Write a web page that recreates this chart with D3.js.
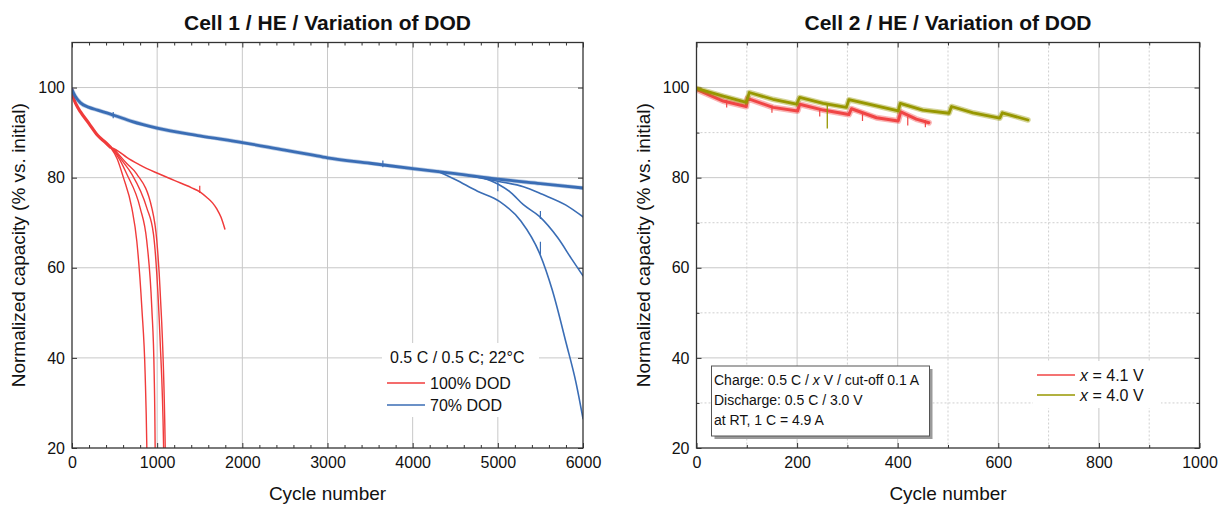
<!DOCTYPE html>
<html>
<head>
<meta charset="utf-8">
<style>
body { margin: 0; background: #fff; }
text { font-family: Arial, "Liberation Sans", sans-serif; fill: #111; }
.title { font-size: 21px; font-weight: bold; }
.axlabel { font-size: 19px; }
.tick text { font-size: 16px; font-family: Arial, "Liberation Sans", sans-serif; fill: #111; }
.tick line { stroke: #333; }
.grid { stroke: #c8c8c8; stroke-width: 1; }
.grid-minor { stroke: #cfcfcf; stroke-width: 1; stroke-dasharray: 2,2; }
.frame { fill: none; stroke: #333; stroke-width: 1.3; }
.curve { fill: none; stroke-linejoin: round; stroke-linecap: round; }
</style>
</head>
<body>
<svg id="thevis" width="1220" height="506"></svg>
<script src="https://cdn.jsdelivr.net/npm/d3@7"></script>
<script>
// ---- data: [cycle, % of initial capacity] ----

// cell 1, 100% DOD (red): common start, then each cell branches off
var red100Start = [[0,99.5],[20,97.6],[50,96.2],[100,94.6],[200,92.0],[300,89.4],[400,87.7],[450,86.8]];
var red100Long  = [[450,86.8],[550,85.8],[643,84.5],[800,82.8],[976,81.2],[1200,79.4],[1400,77.8],
                   [1506,76.8],[1584,75.6],[1650,74.4],[1702,73.0],[1750,71.2],[1795,68.6]];
var red100A = [[450,86.8],[530,84.2],[604,80.0],[702,73.3],[761,65.9],[820,51.1],[859,36.3],[878,20.7],[882,15]];
var red100B = [[470,86.5],[560,84.0],[643,80.8],[800,73.3],[878,65.9],[937,51.1],[965,36.3],[976,20.7],[978,15]];
var red100C = [[490,86.3],[600,83.5],[702,80.8],[878,73.3],[957,67.4],[996,58.5],[1035,43.7],[1075,20.7],[1080,15]];
var red100D = [[510,86.0],[640,83.2],[761,80.8],[937,73.3],[996,66.0],[1035,54.8],[1094,20.7],[1098,15]];

// cell 1, 70% DOD (blue): band of cells, three break away after ~4300 cycles
var blue70Main = [[0,99.5],[40,98.0],[100,96.6],[200,95.6],[300,95.0],[500,93.8],[700,92.5],[1000,91.0],
                  [1500,89.3],[2000,87.8],[2500,86.1],[2800,85.1],[3000,84.4],[3500,83.2],[4000,82.0],
                  [4500,80.9],[5000,79.7],[5500,78.7],[6000,77.7]];
var blue70A = [[4650,80.5],[5000,79.2],[5300,78.0],[5523,76.3],[5800,73.9],[6000,71.3]];
var blue70B = [[4800,80.1],[5000,78.6],[5153,76.7],[5300,74.0],[5488,71.4],[5702,66.7],[5872,61.8],[6000,58.2]];
var blue70C = [[4300,81.4],[4500,79.6],[4761,77.0],[5023,74.7],[5270,70.4],[5488,63.3],[5640,55.0],
               [5802,43.3],[5919,34.4],[6000,26.5]];

// short spikes in the records: [cycle, low, high]
var redSpikes  = [[1500,76.6,78.2]];
var blueSpikes = [[484,93.2,94.6],[3650,82.3,83.8],[5000,77.0,79.2],[5500,63.0,65.8],[5500,70.8,72.6]];

// cell 2 (sawtooth after each check-up)
var cell2Red41 = [[0,99.6],[53,97.0],[99,95.8],[101,97.6],[152,95.6],[201,94.8],[205,96.3],[252,95.0],
                  [303,94.0],[308,95.3],[358,93.3],[401,92.6],[406,94.6],[437,93.0],[462,92.2]];
var cell2Olive40 = [[0,99.8],[53,98.1],[99,96.7],[105,98.9],[152,97.4],[199,96.3],[205,97.8],[252,96.5],
                    [298,95.6],[303,97.3],[351,96.1],[401,94.8],[405,96.5],[450,95.0],[502,94.3],
                    [507,95.8],[550,94.4],[603,93.2],[608,94.4],[659,92.8]];
var oliveSpikes = [[260,90.9,96.5]];
var redSpikes2  = [[60,95.6,97.2],[150,94.4,96.0],[245,93.6,95.2],[330,92.6,94.6],[420,91.6,93.6],[455,91.2,92.8]];

var leftXTicks = [0,1000,2000,3000,4000,5000,6000];
var rightXTicks = [0,200,400,600,800,1000];
var yTicks = [20,40,60,80,100];

var RED = "#f03b3b", BLUE = "#3a6db5", OLIVE = "#979700", RED2 = "#f04545";

var svg = d3.select("svg");

var yL = d3.scaleLinear().domain([20,110]).range([448,42.5]);
var xL = d3.scaleLinear().domain([0,6000]).range([72,583]);
var xR = d3.scaleLinear().domain([0,1000]).range([696.5,1199.5]);

function minorsBetween(majors, step) {
  var out = [];
  for (var i = 0; i < majors.length - 1; i++) {
    for (var v = majors[i] + step; v < majors[i+1] - 1e-9; v += step) out.push(v);
  }
  return out;
}

function panel(id, x, y, xMajors, xMinors, yMajors, yMinors, dottedMinorGrid, title) {
  var g = svg.append("g").attr("id", id);
  var x0 = x.range()[0], x1 = x.range()[1], y0 = y.range()[1], y1 = y.range()[0];

  // grid
  g.selectAll(".gx").data(xMajors.slice(1, -1)).enter().append("line")
    .attr("class", "grid").attr("x1", x).attr("x2", x).attr("y1", y0).attr("y2", y1);
  g.selectAll(".gy").data(yMajors.slice(1)).enter().append("line")
    .attr("class", "grid").attr("y1", y).attr("y2", y).attr("x1", x0).attr("x2", x1);
  if (dottedMinorGrid) {
    g.selectAll(".gxm").data(xMinors).enter().append("line")
      .attr("class", "grid-minor").attr("x1", x).attr("x2", x).attr("y1", y0).attr("y2", y1);
    g.selectAll(".gym").data(yMinors).enter().append("line")
      .attr("class", "grid-minor").attr("y1", y).attr("y2", y).attr("x1", x0).attr("x2", x1);
  }

  // axes with inward ticks, mirrored on top/right
  var fmt = d3.format("d");
  g.append("g").attr("transform", "translate(0," + y1 + ")")
    .call(d3.axisBottom(x).tickValues(xMajors).tickSize(-5).tickPadding(9).tickFormat(fmt));
  g.append("g").attr("transform", "translate(0," + y1 + ")")
    .call(d3.axisBottom(x).tickValues(xMinors).tickSize(-3).tickFormat(""));
  g.append("g").attr("transform", "translate(0," + y0 + ")")
    .call(d3.axisTop(x).tickValues(xMajors).tickSize(-5).tickFormat(""));
  g.append("g").attr("transform", "translate(0," + y0 + ")")
    .call(d3.axisTop(x).tickValues(xMinors).tickSize(-3).tickFormat(""));
  g.append("g").attr("transform", "translate(" + x0 + ",0)")
    .call(d3.axisLeft(y).tickValues(yMajors).tickSize(-5).tickPadding(7).tickFormat(fmt));
  g.append("g").attr("transform", "translate(" + x1 + ",0)")
    .call(d3.axisRight(y).tickValues(yMajors).tickSize(-5).tickFormat(""));
  if (yMinors.length) {
    g.append("g").attr("transform", "translate(" + x0 + ",0)")
      .call(d3.axisLeft(y).tickValues(yMinors).tickSize(-3).tickFormat(""));
    g.append("g").attr("transform", "translate(" + x1 + ",0)")
      .call(d3.axisRight(y).tickValues(yMinors).tickSize(-3).tickFormat(""));
  }
  g.selectAll(".domain").remove();

  g.append("clipPath").attr("id", id + "-clip").append("rect")
    .attr("x", x0).attr("y", y0).attr("width", x1 - x0).attr("height", y1 - y0);

  // labels
  svg.append("text").attr("class", "title").attr("text-anchor", "middle")
    .attr("x", (x0 + x1) / 2).attr("y", 30).text(title);
  svg.append("text").attr("class", "axlabel").attr("text-anchor", "middle")
    .attr("x", (x0 + x1) / 2).attr("y", 500).text("Cycle number");
  svg.append("text").attr("class", "axlabel").attr("text-anchor", "middle")
    .attr("transform", "translate(" + (x0 - 47) + "," + ((y0 + y1) / 2) + ") rotate(-90)")
    .text("Normalized capacity (% vs. initial)");

  var plot = g.append("g").attr("clip-path", "url(#" + id + "-clip)");
  return {g: g, plot: plot, x0: x0, x1: x1, y0: y0, y1: y1};
}

function drawCurve(p, x, y, data, color, width, curve, opacity) {
  var line = d3.line().x(function(d) { return x(d[0]); }).y(function(d) { return y(d[1]); })
    .curve(curve || d3.curveMonotoneX);
  p.plot.append("path").datum(data).attr("class", "curve")
    .attr("stroke", color).attr("stroke-width", width)
    .attr("stroke-opacity", opacity == null ? 1 : opacity).attr("d", line);
}

function drawSpikes(p, x, y, data, color, width) {
  p.plot.selectAll(null).data(data).enter().append("line")
    .attr("x1", function(d) { return x(d[0]); }).attr("x2", function(d) { return x(d[0]); })
    .attr("y1", function(d) { return y(d[1]); }).attr("y2", function(d) { return y(d[2]); })
    .attr("stroke", color).attr("stroke-width", width);
}

// ---------- left panel ----------
var L = panel("left", xL, yL, leftXTicks, minorsBetween(leftXTicks, 200), yTicks, [], false,
              "Cell 1 / HE / Variation of DOD");

[red100A, red100B, red100C, red100D].forEach(function(d) { drawCurve(L, xL, yL, d, RED, 1.4); });
drawCurve(L, xL, yL, red100Long, RED, 1.5);
drawCurve(L, xL, yL, red100Start, RED, 3.2);
drawSpikes(L, xL, yL, redSpikes, RED, 1.2);

[blue70A, blue70B, blue70C].forEach(function(d) { drawCurve(L, xL, yL, d, BLUE, 1.6); });
drawCurve(L, xL, yL, blue70Main, BLUE, 4.2, null, 0.35);
drawCurve(L, xL, yL, blue70Main, BLUE, 2.8);
drawSpikes(L, xL, yL, blueSpikes, BLUE, 1.2);

// legend (white backdrop hides the grid)
var legL = L.g.append("g");
legL.append("rect").attr("x", 382).attr("y", 343).attr("width", 157).attr("height", 74).attr("fill", "#fff");
legL.append("text").attr("x", 390).attr("y", 363).style("font-size", "16px").text("0.5 C / 0.5 C; 22°C");
[["100% DOD", RED], ["70% DOD", BLUE]].forEach(function(d, i) {
  legL.append("line").attr("x1", 387).attr("x2", 425).attr("y1", 383 + i * 22).attr("y2", 383 + i * 22)
    .attr("stroke", d[1]).attr("stroke-width", 1.5);
  legL.append("text").attr("x", 430).attr("y", 389 + i * 22).style("font-size", "16px").text(d[0]);
});
L.g.append("rect").attr("class", "frame").attr("x", L.x0).attr("y", L.y0)
  .attr("width", L.x1 - L.x0).attr("height", L.y1 - L.y0);

// ---------- right panel ----------
var R = panel("right", xR, yL, rightXTicks, minorsBetween(rightXTicks, 100), yTicks,
              minorsBetween(yTicks.concat([120]), 10).filter(function(v) { return v < 110; }), true,
              "Cell 2 / HE / Variation of DOD");

// noisy records: a faint wide band under a solid core
drawCurve(R, xR, yL, cell2Red41, RED2, 6, d3.curveLinear, 0.4);
drawCurve(R, xR, yL, cell2Red41, RED2, 3, d3.curveLinear);
drawSpikes(R, xR, yL, redSpikes2, RED2, 1.2);
drawCurve(R, xR, yL, cell2Olive40, OLIVE, 5.5, d3.curveLinear, 0.4);
drawCurve(R, xR, yL, cell2Olive40, OLIVE, 2.8, d3.curveLinear);
drawSpikes(R, xR, yL, oliveSpikes, OLIVE, 1.3);

var legR = R.g.append("g");
legR.append("rect").attr("x", 1033).attr("y", 361).attr("width", 128).attr("height", 47).attr("fill", "#fff");
[["4.1 V", RED2], ["4.0 V", OLIVE]].forEach(function(d, i) {
  legR.append("line").attr("x1", 1037).attr("x2", 1075).attr("y1", 375 + i * 20).attr("y2", 375 + i * 20)
    .attr("stroke", d[1]).attr("stroke-width", 1.5);
  var t = legR.append("text").attr("x", 1080).attr("y", 381 + i * 20).style("font-size", "16px");
  t.append("tspan").style("font-style", "italic").text("x");
  t.append("tspan").text(" = " + d[0]);
});

var note = R.g.append("g");
note.append("rect").attr("x", 714.5).attr("y", 369).attr("width", 218).attr("height", 70).attr("fill", "#9a9a9a");
note.append("rect").attr("x", 711.5).attr("y", 366).attr("width", 218).attr("height", 70)
  .attr("fill", "#fff").attr("stroke", "#555").attr("stroke-width", 1);
var l1 = note.append("text").attr("x", 714).attr("y", 385).style("font-size", "14px");
l1.append("tspan").text("Charge: 0.5 C / ");
l1.append("tspan").style("font-style", "italic").text("x");
l1.append("tspan").text(" V / cut-off 0.1 A");
note.append("text").attr("x", 714).attr("y", 405).style("font-size", "14px").text("Discharge: 0.5 C / 3.0 V");
note.append("text").attr("x", 714).attr("y", 425).style("font-size", "14px").text("at RT, 1 C = 4.9 A");

R.g.append("rect").attr("class", "frame").attr("x", R.x0).attr("y", R.y0)
  .attr("width", R.x1 - R.x0).attr("height", R.y1 - R.y0);
</script>
</body>
</html>
